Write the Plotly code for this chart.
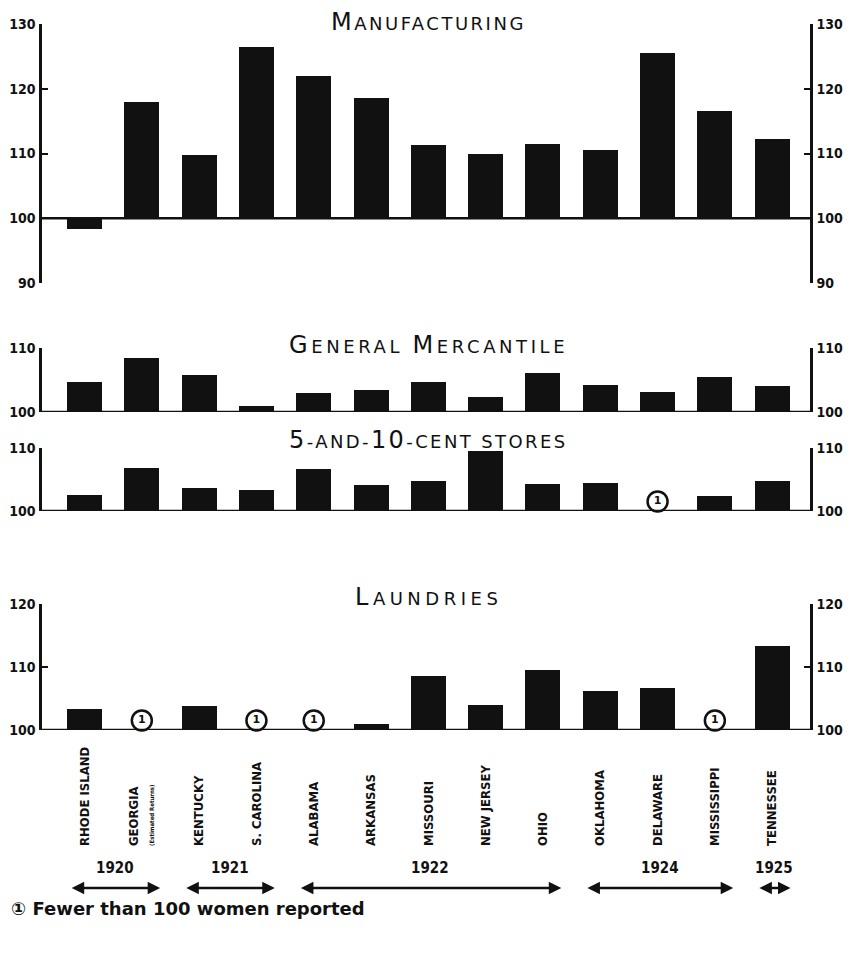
import plotly.graph_objects as go

STATES = ["RHODE ISLAND", "GEORGIA", "KENTUCKY", "S. CAROLINA", "ALABAMA", "ARKANSAS",
          "MISSOURI", "NEW JERSEY", "OHIO", "OKLAHOMA", "DELAWARE", "MISSISSIPPI", "TENNESSEE"]
GEORGIA_NOTE = "(Estimated Returns)"

# index numbers, 100 = base; None = fewer than 100 women reported
MANUFACTURING = [98.3, 117.9, 109.8, 126.5, 122.0, 118.5, 111.3, 110.0, 111.5, 110.6, 125.5, 116.5, 112.2]
GENERAL_MERCANTILE = [104.7, 108.5, 105.8, 100.9, 103.0, 103.4, 104.7, 102.4, 106.1, 104.2, 103.2, 105.5, 104.1]
FIVE_AND_TEN = [102.6, 106.9, 103.7, 103.4, 106.6, 104.2, 104.7, 109.5, 104.3, 104.5, None, 102.4, 104.7]
LAUNDRIES = [103.4, None, 103.8, None, None, 101.0, 108.5, 104.0, 109.6, 106.2, 106.7, None, 113.4]
BASE = 100

YEARS = ["1920", "1921", "1922", "1924", "1925"]
YEAR_FIRST = [0, 2, 4, 9, 12]
YEAR_LAST = [1, 3, 8, 11, 12]

FOOTNOTE = "\u2460 Fewer than 100 women reported"

# the page body keeps its default 8px margin, so the figure is laid out 8px in
PAGE = 8
W, H = 851 - PAGE, 980 - 2 * PAGE
LEFT, RIGHT = 42 - PAGE, 810 - PAGE
X = list(range(len(STATES)))
X_RANGE = [-0.742, 12.66]

TITLE_FONT = "DejaVu Sans, Liberation Sans, sans-serif"
NUM_FONT = "DejaVu Sans Condensed, Liberation Sans Narrow, DejaVu Sans, sans-serif"
LABEL_FONT = "Liberation Sans Narrow, DejaVu Sans Condensed, Liberation Sans, sans-serif"


def py(px):
    """screen pixel row -> paper y"""
    return 1 - (px - PAGE) / H


def px_x(px):
    """screen pixel column -> paper x"""
    return (px - PAGE - LEFT) / (RIGHT - LEFT)


def aid(k):
    return "" if k == 1 else str(k)


def smallcaps(parts, spacing):
    out = ""
    for big, small in parts:
        if big:
            out += f"<span style='font-size:24px;letter-spacing:{spacing}px'>{big}</span>"
        if small:
            out += f"<span style='font-size:18px;letter-spacing:{spacing}px'>{small}</span>"
    return out


PANELS = [
    {"values": MANUFACTURING, "range": [90, 130], "ticks": [90, 100, 110, 120, 130],
     "top": 24, "bottom": 283, "title_y": 22,
     "title": smallcaps([("M", "ANUFACTURING")], 2.5)},
    {"values": GENERAL_MERCANTILE, "range": [100, 110], "ticks": [100, 110],
     "top": 348, "bottom": 412, "title_y": 345,
     "title": smallcaps([("G", "ENERAL "), ("M", "ERCANTILE")], 3.6)},
    {"values": FIVE_AND_TEN, "range": [100, 110], "ticks": [100, 110],
     "top": 448, "bottom": 511, "title_y": 440,
     "title": smallcaps([("5", "-AND-"), ("10", "-CENT STORES")], 2.4)},
    {"values": LAUNDRIES, "range": [100, 120], "ticks": [100, 110, 120],
     "top": 604, "bottom": 730, "title_y": 597,
     "title": smallcaps([("L", "AUNDRIES")], 4.5)},
]

fig = go.Figure()
layout = {}
n = len(PANELS)

for i, p in enumerate(PANELS, start=1):
    xa, ya, yr = f"x{aid(i)}", f"y{aid(i)}", f"y{i + n}"
    vals = p["values"]
    fig.add_trace(go.Bar(
        x=X, y=[None if v is None else v - BASE for v in vals], base=BASE,
        width=0.61, marker={"color": "#111111", "line": {"width": 0}},
        xaxis=xa, yaxis=ya, showlegend=False, hoverinfo="skip",
    ))
    # invisible copy so the right-hand axis gets drawn
    fig.add_trace(go.Scatter(
        x=X, y=vals, mode="markers", marker={"opacity": 0}, xaxis=xa, yaxis=yr,
        showlegend=False, hoverinfo="skip",
    ))
    few = [x for x, v in zip(X, vals) if v is None]
    if few:
        fig.add_trace(go.Scatter(
            x=few, y=[BASE + 1.5] * len(few), mode="markers+text", text=["1"] * len(few),
            textposition="middle center",
            textfont={"family": "DejaVu Sans", "size": 11, "color": "#111111", "weight": "bold"},
            marker={"symbol": "circle", "size": 20, "color": "white",
                    "line": {"color": "#111111", "width": 2.5}},
            xaxis=xa, yaxis=ya, showlegend=False, hoverinfo="skip", cliponaxis=False,
        ))

    dom = [py(p["bottom"]), py(p["top"])]
    axis_common = dict(
        range=p["range"], tickvals=p["ticks"], ticks="inside", ticklen=6, tickwidth=2,
        tickcolor="#111111", showline=True, linewidth=2.5, linecolor="#111111",
        showgrid=False, zeroline=False, automargin=False, ticklabelstandoff=1,
        tickfont={"family": NUM_FONT, "size": 14, "color": "#111111", "weight": "bold"},
    )
    layout[f"yaxis{aid(i)}"] = dict(domain=dom, anchor=xa, side="left", **axis_common)
    layout[f"yaxis{i + n}"] = dict(anchor=xa, overlaying=ya, side="right", **axis_common)

    xaxis = dict(domain=[0, 1], range=X_RANGE, showgrid=False, zeroline=False,
                 showline=False, ticks="", fixedrange=True, automargin=False)
    if i == n:
        labels = [f"{s}<br><span style='font-size:6px'>{GEORGIA_NOTE}</span>" if s == "GEORGIA" else s
                  for s in STATES]
        xaxis.update(anchor="free", position=py(846), side="top", tickangle=-90,
                     tickvals=X, ticktext=labels,
                     tickfont={"family": LABEL_FONT, "size": 13, "color": "#111111", "weight": "bold"})
    else:
        xaxis.update(anchor=ya, showticklabels=False)
    layout[f"xaxis{aid(i)}"] = xaxis

    # base line at 100 across the panel
    fig.add_shape(type="line", xref=f"{xa} domain", yref=ya, x0=0, x1=1, y0=BASE, y1=BASE,
                  line={"color": "#111111", "width": 2.5})

    fig.add_annotation(x=6, xref=xa, y=py(p["title_y"]), yref="paper", text=p["title"],
                       showarrow=False, yanchor="middle",
                       font={"family": TITLE_FONT, "color": "#111111"})

# year spans with double-headed arrows
for year, a, b in zip(YEARS, YEAR_FIRST, YEAR_LAST):
    x0, x1 = a - 0.25, b + 0.32
    fig.add_annotation(x=(x0 + x1) / 2, xref="x4", y=py(868), yref="paper", text=year,
                       showarrow=False, yanchor="middle",
                       font={"family": NUM_FONT, "size": 15, "color": "#111111", "weight": "bold"})
    fig.add_annotation(x=x1, xref="x4", y=py(888), yref="paper", ax=x0, axref="x4",
                       ay=0, ayref="pixel", text="", showarrow=True, arrowside="end+start",
                       arrowhead=2, arrowsize=1, arrowwidth=2.5, arrowcolor="#111111")

fig.add_annotation(x=px_x(9), xref="paper", y=py(908), yref="paper", text=FOOTNOTE,
                   showarrow=False, xanchor="left", yanchor="middle",
                   font={"family": "DejaVu Sans, Noto Sans CJK SC, sans-serif", "size": 18,
                         "color": "#111111", "weight": "bold"})

fig.update_layout(
    **layout,
    width=W, height=H,
    margin={"l": LEFT, "r": W - RIGHT, "t": 0, "b": 0, "autoexpand": False},
    paper_bgcolor="white", plot_bgcolor="white",
    bargap=0, showlegend=False,
)

fig.write_html("out.html")
